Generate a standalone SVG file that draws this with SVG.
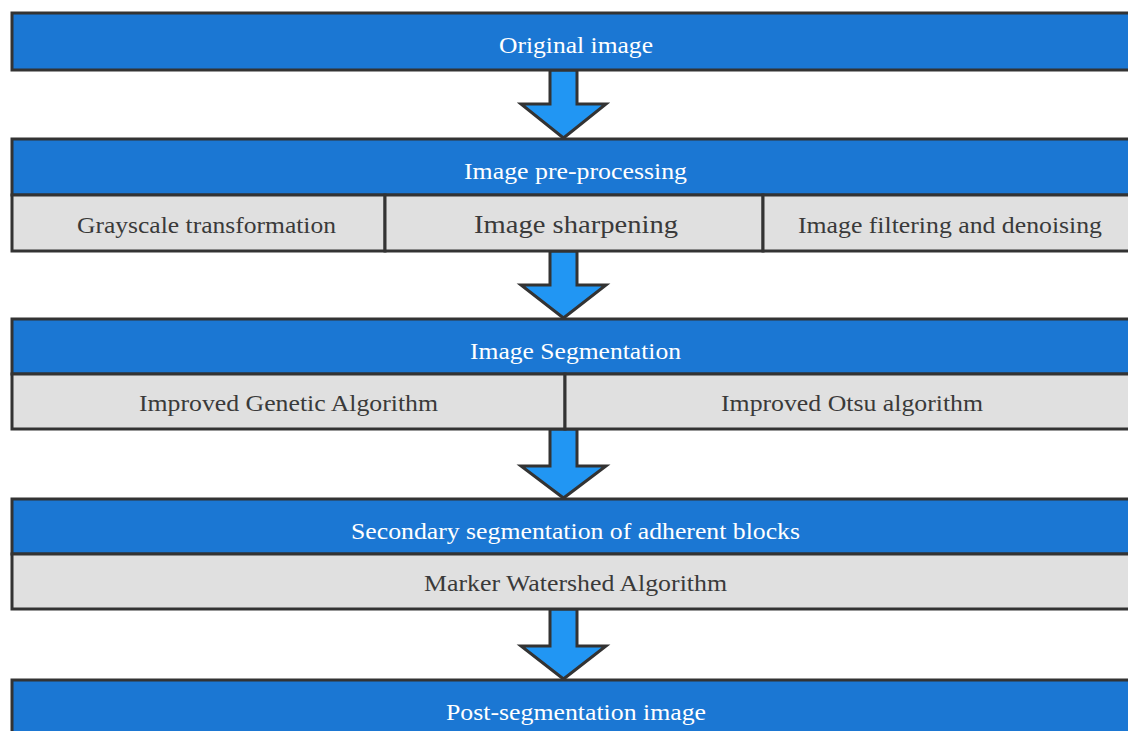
<svg xmlns="http://www.w3.org/2000/svg" width="1128" height="731" viewBox="0 0 1128 731">
<defs>
<style>
.hdr{fill:#1b77d3;stroke:#333;stroke-width:3}
.sub{fill:#e0e0e0;stroke:#333;stroke-width:3}
.arr{fill:#2196f3;stroke:#333;stroke-width:3;stroke-linejoin:miter}
.wt{font-family:"Liberation Serif","Times New Roman",serif;font-size:23px;fill:#ffffff;text-anchor:middle}
.dt{font-family:"Liberation Serif","Times New Roman",serif;font-size:24px;fill:#3a3a3a;text-anchor:middle}
</style>
</defs>
<rect width="1128" height="731" fill="#ffffff"/>
<g id="connectors">
<path class="arr" d="M550,70 L577,70 L577,104 L606,104 L563.5,138 L521,104 L550,104 Z"/>
<path class="arr" d="M550,251 L577,251 L577,285 L606,285 L563.5,318 L521,285 L550,285 Z"/>
<path class="arr" d="M550,429 L577,429 L577,466 L606,466 L563.5,498 L521,466 L550,466 Z"/>
<path class="arr" d="M550,609 L577,609 L577,646 L606,646 L563.5,679 L521,646 L550,646 Z"/>
</g>
<g id="original">
<rect class="hdr" x="12" y="13" width="1130" height="57"/>
<text class="wt" x="576" y="52.5" textLength="154" lengthAdjust="spacingAndGlyphs">Original image</text>
</g>
<g id="preprocessing">
<rect class="hdr" x="12" y="139" width="1130" height="56"/>
<text class="wt" x="575.5" y="179" textLength="223" lengthAdjust="spacingAndGlyphs">Image pre-processing</text>
</g>
<g id="grayscale">
<rect class="sub" x="12" y="195" width="373" height="56"/>
<text class="dt" x="206.5" y="233" textLength="259" lengthAdjust="spacingAndGlyphs">Grayscale transformation</text>
</g>
<g id="sharpening">
<rect class="sub" x="385" y="195" width="378" height="56"/>
<text class="dt" x="576" y="233" style="font-size:26px" textLength="204" lengthAdjust="spacingAndGlyphs">Image sharpening</text>
</g>
<g id="filtering">
<rect class="sub" x="763" y="195" width="379" height="56"/>
<text class="dt" x="950" y="233" textLength="304" lengthAdjust="spacingAndGlyphs">Image filtering and denoising</text>
</g>
<g id="segmentation">
<rect class="hdr" x="12" y="319" width="1130" height="55"/>
<text class="wt" x="575.5" y="359" textLength="211" lengthAdjust="spacingAndGlyphs">Image Segmentation</text>
</g>
<g id="genetic">
<rect class="sub" x="12" y="374" width="553" height="55"/>
<text class="dt" x="288.5" y="411" textLength="299" lengthAdjust="spacingAndGlyphs">Improved Genetic Algorithm</text>
</g>
<g id="otsu">
<rect class="sub" x="565" y="374" width="577" height="55"/>
<text class="dt" x="852" y="411" textLength="262" lengthAdjust="spacingAndGlyphs">Improved Otsu algorithm</text>
</g>
<g id="secondary">
<rect class="hdr" x="12" y="499" width="1130" height="55"/>
<text class="wt" x="575.5" y="539" textLength="449" lengthAdjust="spacingAndGlyphs">Secondary segmentation of adherent blocks</text>
</g>
<g id="watershed">
<rect class="sub" x="12" y="554" width="1130" height="55"/>
<text class="dt" x="575.5" y="591" textLength="303" lengthAdjust="spacingAndGlyphs">Marker Watershed Algorithm</text>
</g>
<g id="post">
<rect class="hdr" x="12" y="680" width="1130" height="60"/>
<text class="wt" x="576" y="720" textLength="260" lengthAdjust="spacingAndGlyphs">Post-segmentation image</text>
</g>
</svg>
